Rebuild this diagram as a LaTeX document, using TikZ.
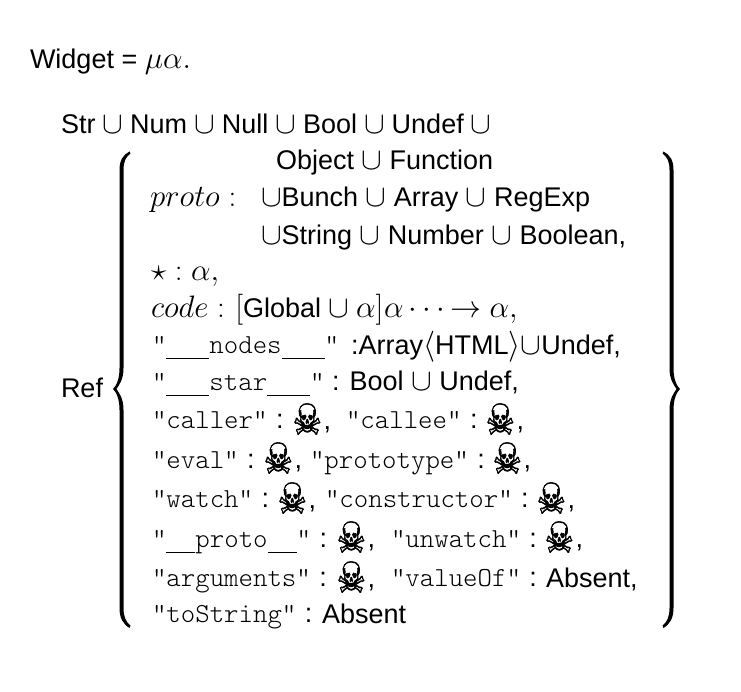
\RequirePackage{fix-cm}
\documentclass[tikz,border=0pt]{standalone}
\usepackage{fontspec}
\setmainfont{Liberation Sans}
\setmonofont{Latin Modern Mono Light}
\DeclareMathSizes{27}{31}{23}{18}
\newfontfamily\skullfont[FakeBold=1.2]{DejaVu Sans}
\newcommand{\skl}{\kern-1.5pt\raisebox{-5.7pt}{\scalebox{1.0}[1.3]{\fontsize{33}{33}\skullfont ☠}}\kern1.5pt}
\newcommand{\tts}[1]{{\ttfamily\fontsize{27.5}{30}\selectfont #1}}
\newcommand{\ttc}[1]{\tts{#1} \kern1pt:}
\newcommand{\usc}[1]{\rule[-5.8pt]{#1pt}{1.2pt}}
\newcommand{\ucup}{\kern-.5pt$\cup$\kern-.5pt}
\newcommand{\bracepath}{(129.5,151.5) .. controls (123,155) and (119.5,160) .. (119.5,170) -- (119.5,368)
 .. controls (119.5,380) and (116,386) .. (113,389) .. controls (116,392) and (119.5,398) .. (119.5,410)
 -- (119.5,608) .. controls (119.5,618) and (123,624) .. (129.5,628) -- (130.5,625.5)
 .. controls (126,622) and (123.5,617) .. (123.5,608) -- (123.5,410)
 .. controls (123.5,398) and (119,393) .. (116.5,389) .. controls (119,385) and (123.5,380) .. (123.5,368)
 -- (123.5,170) .. controls (123.5,161) and (126,157) .. (130.5,153.5) -- cycle}
\tikzset{rowtext/.style={anchor=base west,inner sep=0pt,outer sep=0pt,font=\fontsize{27}{30}\selectfont}}
\begin{document}
\begin{tikzpicture}[x=1pt,y=-1pt]
\useasboundingbox (0,0) rectangle (741,692);
\fill[black] \bracepath;
\begin{scope}[xshift=793pt,xscale=-1]
\fill[black] \bracepath;
\end{scope}
\node[rowtext] (widget) at (30,69) {Widget = $\mu\alpha.$};
\node[rowtext] (str) at (61,134) {Str \ucup{} Num \ucup{} Null \ucup{} Bool \ucup{} Undef \ucup};
\node[rowtext] (object) at (276,170) {Object $\cup$ Function};
\node[rowtext] (proto) at (150,207) {$proto:$};
\node[rowtext] (bunch) at (261,207) {$\cup$Bunch $\cup$ Array $\cup$ RegExp};
\node[rowtext] (string) at (261,245) {$\cup$String $\cup$ Number $\cup$ Boolean,};
\node[rowtext] (star) at (151,281) {$\star:\alpha,$};
\node[rowtext] (code) at (151,317) {$code:\kern2pt[$Global $\cup$};
\node[rowtext] (codeb) at (356,317) {$\alpha]$};
\node[rowtext] (codec) at (384,317) {$\alpha\cdots$};
\node[rowtext] (coded) at (450,317) {$\to\alpha,$};
\node[rowtext] (nodes) at (152,353) {\tts{"\usc{43}nodes\usc{43}"}};
\node[rowtext] (nodesb) at (351,354) {:Array$\langle$HTML$\rangle\cup$Undef,};
\node[rowtext] (starstr) at (152,390) {\tts{"\usc{43}star\usc{43}"} : Bool $\cup$ Undef,};
\node[rowtext] (ref) at (61,397) {Ref};
% caller row
\node[rowtext] (caller) at (152,428) {\ttc{"caller"}};
\node[rowtext] (sk1) at (294,429) {\skl,};
\node[rowtext] (callee) at (346,428) {\ttc{"callee"}};
\node[rowtext] (sk2) at (487,429) {\skl,};
% eval row
\node[rowtext] (eval) at (152,468) {\ttc{"eval"}};
\node[rowtext] (sk3) at (265,468) {\skl,};
\node[rowtext] (prototype) at (310,468) {\ttc{"prototype"}};
\node[rowtext] (sk4) at (494,468) {\skl,};
% watch row
\node[rowtext] (watch) at (152,507) {\ttc{"watch"}};
\node[rowtext] (sk5) at (279,508) {\skl,};
\node[rowtext] (constructor) at (325,507) {\ttc{"constructor"}};
\node[rowtext] (sk6) at (538,508) {\skl,};
% proto row
\node[rowtext] (dunder) at (152,547) {\ttc{"\usc{29}proto\usc{29}"}};
\node[rowtext] (sk7) at (338,547) {\skl,};
\node[rowtext] (unwatch) at (391,547) {\ttc{"unwatch"}};
\node[rowtext] (sk8) at (546,547) {\skl,};
% arguments row
\node[rowtext] (arguments) at (152,586) {\ttc{"arguments"}};
\node[rowtext] (sk9) at (338,587) {\skl,};
\node[rowtext] (valueof) at (391,586) {\ttc{"valueOf"}};
\node[rowtext] (absent) at (546,587) {Absent,};
% toString row
\node[rowtext] (tostring) at (152,622) {\ttc{"toString"}};
\node[rowtext] (absentb) at (322,623) {Absent};
\end{tikzpicture}
\end{document}
